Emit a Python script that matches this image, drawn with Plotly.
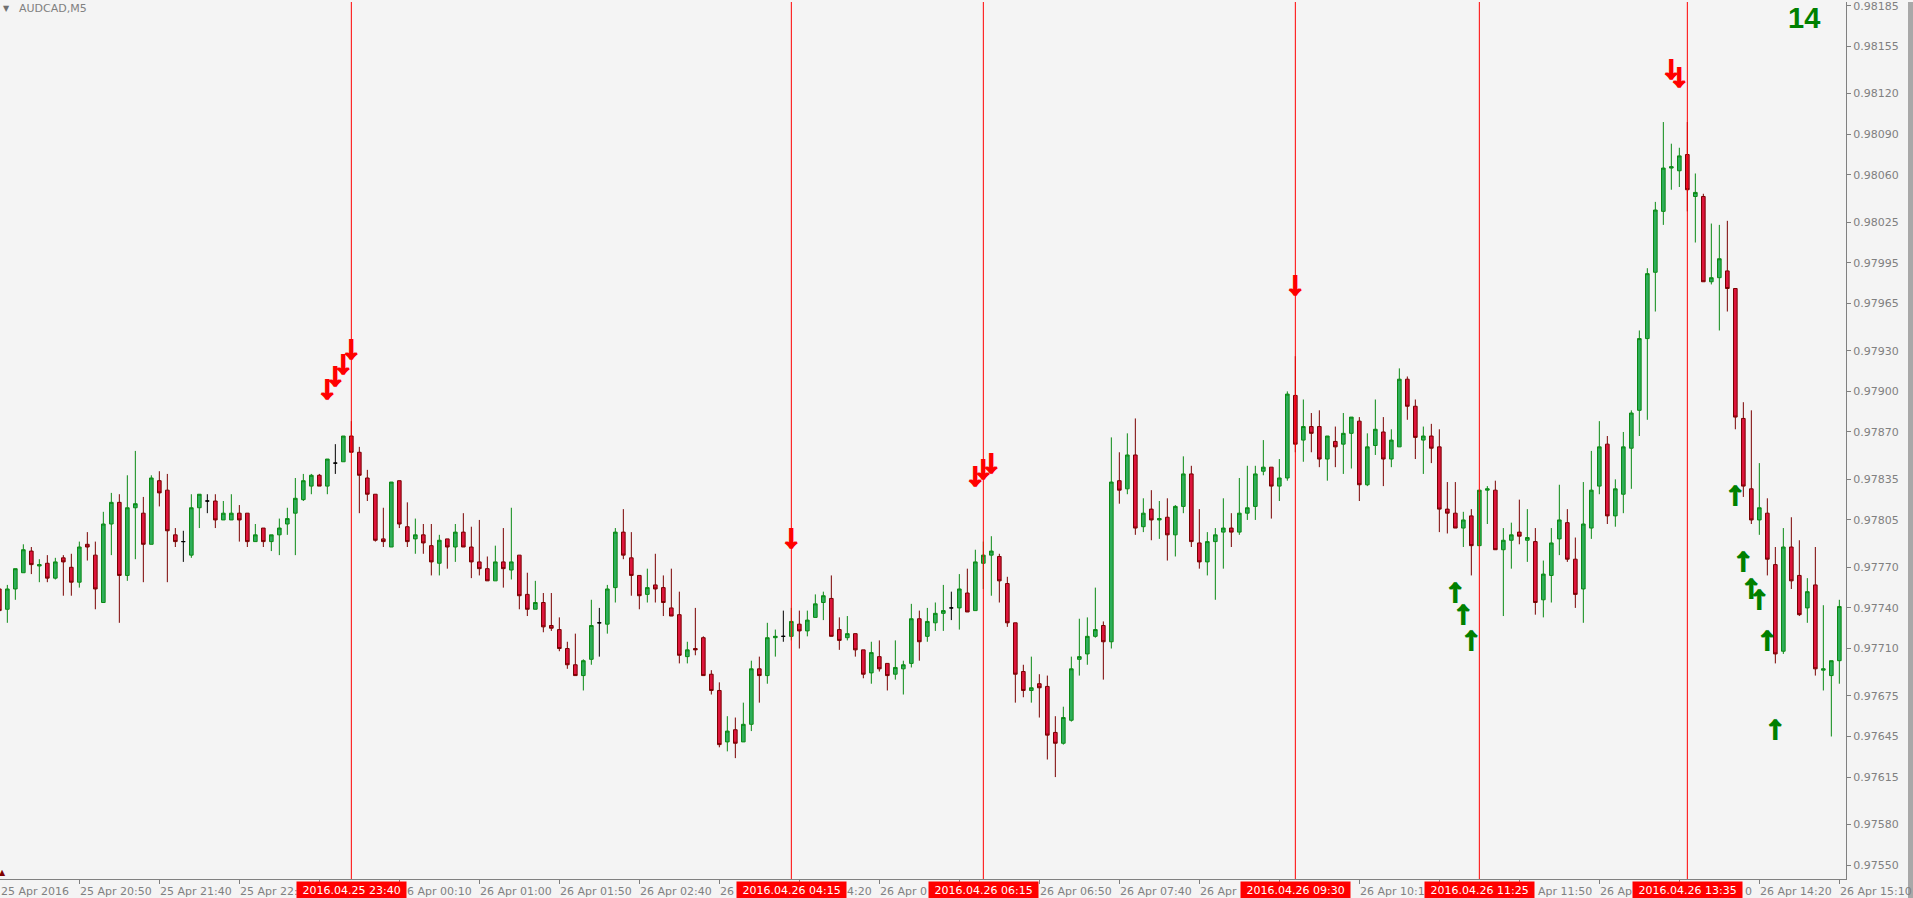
import pandas as pd
import plotly.graph_objects as go

# ---------------- data ----------------
times = pd.date_range("2016-04-25 20:00", periods=231, freq="5min")

open_ = [
    0.97754, 0.97739, 0.97754, 0.97766, 0.97782, 0.97771, 0.97773, 0.97762, 0.97777, 0.97770,
    0.97759, 0.97787, 0.97779, 0.97744, 0.97802, 0.97818, 0.97764, 0.97814, 0.97810, 0.97787,
    0.97834, 0.97827, 0.97794, 0.97789, 0.97779, 0.97814, 0.97819, 0.97819, 0.97805, 0.97805,
    0.97810, 0.97810, 0.97789, 0.97799, 0.97789, 0.97794, 0.97802, 0.97810, 0.97820, 0.97830,
    0.97838, 0.97830, 0.97847, 0.97848, 0.97867, 0.97855, 0.97836, 0.97824, 0.97791, 0.97785,
    0.97834, 0.97800, 0.97791, 0.97794, 0.97786, 0.97773, 0.97791, 0.97785, 0.97796, 0.97785,
    0.97774, 0.97769, 0.97760, 0.97774, 0.97768, 0.97779, 0.97750, 0.97739, 0.97744, 0.97727,
    0.97724, 0.97710, 0.97698, 0.97690, 0.97702, 0.97729, 0.97728, 0.97755, 0.97796, 0.97777,
    0.97764, 0.97750, 0.97757, 0.97755, 0.97740, 0.97735, 0.97704, 0.97710, 0.97718, 0.97691,
    0.97679, 0.97641, 0.97650, 0.97641, 0.97654, 0.97695, 0.97690, 0.97718, 0.97719, 0.97719,
    0.97728, 0.97723, 0.97733, 0.97744, 0.97747, 0.97724, 0.97718, 0.97721, 0.97709, 0.97692,
    0.97704, 0.97699, 0.97691, 0.97695, 0.97699, 0.97732, 0.97719, 0.97729, 0.97736, 0.97740,
    0.97740, 0.97751, 0.97738, 0.97773, 0.97779, 0.97778, 0.97758, 0.97729, 0.97693, 0.97679,
    0.97684, 0.97682, 0.97648, 0.97640, 0.97657, 0.97702, 0.97706, 0.97719, 0.97727, 0.97715,
    0.97834, 0.97828, 0.97853, 0.97800, 0.97813, 0.97805, 0.97807, 0.97794, 0.97815, 0.97839,
    0.97788, 0.97774, 0.97789, 0.97796, 0.97799, 0.97796, 0.97810, 0.97815, 0.97841, 0.97844,
    0.97830, 0.97836, 0.97897, 0.97864, 0.97874, 0.97874, 0.97850, 0.97863, 0.97861, 0.97869,
    0.97878, 0.97831, 0.97860, 0.97870, 0.97850, 0.97859, 0.97909, 0.97889, 0.97864, 0.97867,
    0.97859, 0.97813, 0.97810, 0.97799, 0.97808, 0.97786, 0.97827, 0.97827, 0.97783, 0.97790,
    0.97796, 0.97790, 0.97789, 0.97746, 0.97764, 0.97791, 0.97803, 0.97776, 0.97754, 0.97799,
    0.97830, 0.97861, 0.97808, 0.97824, 0.97858, 0.97886, 0.97939, 0.97988, 0.98033, 0.98065,
    0.98063, 0.98075, 0.98044, 0.98044, 0.97981, 0.97984, 0.97989, 0.97976, 0.97880, 0.97828,
    0.97805, 0.97810, 0.97772, 0.97708, 0.97785, 0.97764, 0.97740, 0.97757, 0.97694, 0.97690,
    0.97701,
]

high = [
    0.97757, 0.97757, 0.97769, 0.97787, 0.97785, 0.97776, 0.97779, 0.97777, 0.97779, 0.97780,
    0.97789, 0.97796, 0.97789, 0.97811, 0.97825, 0.97824, 0.97838, 0.97856, 0.97822, 0.97838,
    0.97841, 0.97839, 0.97799, 0.97797, 0.97824, 0.97824, 0.97824, 0.97824, 0.97819, 0.97824,
    0.97816, 0.97810, 0.97802, 0.97799, 0.97794, 0.97806, 0.97814, 0.97836, 0.97839, 0.97839,
    0.97839, 0.97850, 0.97861, 0.97867, 0.97878, 0.97859, 0.97842, 0.97824, 0.97814, 0.97833,
    0.97834, 0.97818, 0.97806, 0.97802, 0.97802, 0.97794, 0.97791, 0.97802, 0.97810, 0.97800,
    0.97805, 0.97778, 0.97786, 0.97799, 0.97814, 0.97779, 0.97766, 0.97760, 0.97751, 0.97751,
    0.97733, 0.97715, 0.97721, 0.97702, 0.97746, 0.97740, 0.97757, 0.97799, 0.97813, 0.97796,
    0.97764, 0.97769, 0.97780, 0.97764, 0.97769, 0.97752, 0.97715, 0.97740, 0.97719, 0.97694,
    0.97685, 0.97660, 0.97659, 0.97670, 0.97701, 0.97704, 0.97729, 0.97724, 0.97738, 0.97740,
    0.97738, 0.97738, 0.97750, 0.97752, 0.97764, 0.97733, 0.97734, 0.97721, 0.97709, 0.97715,
    0.97716, 0.97699, 0.97716, 0.97701, 0.97743, 0.97738, 0.97740, 0.97744, 0.97757, 0.97752,
    0.97765, 0.97769, 0.97783, 0.97789, 0.97793, 0.97780, 0.97763, 0.97729, 0.97698, 0.97704,
    0.97691, 0.97690, 0.97660, 0.97667, 0.97704, 0.97732, 0.97733, 0.97755, 0.97730, 0.97866,
    0.97855, 0.97869, 0.97880, 0.97821, 0.97827, 0.97819, 0.97821, 0.97816, 0.97852, 0.97845,
    0.97813, 0.97796, 0.97799, 0.97821, 0.97810, 0.97836, 0.97845, 0.97845, 0.97864, 0.97844,
    0.97850, 0.97900, 0.97926, 0.97894, 0.97884, 0.97886, 0.97867, 0.97874, 0.97884, 0.97881,
    0.97881, 0.97869, 0.97894, 0.97881, 0.97872, 0.97917, 0.97911, 0.97894, 0.97874, 0.97876,
    0.97872, 0.97833, 0.97833, 0.97811, 0.97813, 0.97827, 0.97830, 0.97834, 0.97799, 0.97803,
    0.97820, 0.97813, 0.97799, 0.97775, 0.97799, 0.97831, 0.97813, 0.97792, 0.97833, 0.97856,
    0.97878, 0.97867, 0.97835, 0.97870, 0.97886, 0.97945, 0.97991, 0.98040, 0.98099, 0.98083,
    0.98080, 0.98099, 0.98061, 0.98046, 0.98024, 0.98023, 0.98026, 0.97976, 0.97892, 0.97886,
    0.97847, 0.97821, 0.97785, 0.97799, 0.97807, 0.97790, 0.97762, 0.97785, 0.97742, 0.97701,
    0.97746,
]

low = [
    0.97734, 0.97729, 0.97746, 0.97766, 0.97765, 0.97759, 0.97759, 0.97761, 0.97749, 0.97749,
    0.97755, 0.97775, 0.97739, 0.97744, 0.97779, 0.97729, 0.97760, 0.97776, 0.97759, 0.97787,
    0.97815, 0.97759, 0.97785, 0.97774, 0.97777, 0.97799, 0.97810, 0.97799, 0.97805, 0.97805,
    0.97789, 0.97785, 0.97789, 0.97785, 0.97782, 0.97779, 0.97794, 0.97779, 0.97819, 0.97824,
    0.97830, 0.97824, 0.97839, 0.97848, 0.97855, 0.97810, 0.97819, 0.97789, 0.97785, 0.97785,
    0.97799, 0.97785, 0.97780, 0.97780, 0.97764, 0.97764, 0.97769, 0.97774, 0.97785, 0.97762,
    0.97764, 0.97760, 0.97760, 0.97755, 0.97761, 0.97739, 0.97734, 0.97739, 0.97722, 0.97723,
    0.97708, 0.97695, 0.97690, 0.97679, 0.97698, 0.97704, 0.97721, 0.97744, 0.97776, 0.97749,
    0.97739, 0.97744, 0.97744, 0.97734, 0.97734, 0.97699, 0.97699, 0.97705, 0.97690, 0.97676,
    0.97637, 0.97634, 0.97629, 0.97641, 0.97649, 0.97670, 0.97684, 0.97704, 0.97715, 0.97716,
    0.97710, 0.97719, 0.97733, 0.97731, 0.97719, 0.97709, 0.97716, 0.97704, 0.97688, 0.97684,
    0.97693, 0.97679, 0.97687, 0.97676, 0.97696, 0.97701, 0.97715, 0.97723, 0.97723, 0.97731,
    0.97724, 0.97737, 0.97738, 0.97754, 0.97749, 0.97744, 0.97726, 0.97670, 0.97674, 0.97670,
    0.97659, 0.97628, 0.97615, 0.97639, 0.97656, 0.97690, 0.97698, 0.97718, 0.97687, 0.97710,
    0.97817, 0.97824, 0.97794, 0.97796, 0.97790, 0.97791, 0.97775, 0.97778, 0.97810, 0.97785,
    0.97769, 0.97764, 0.97746, 0.97769, 0.97785, 0.97794, 0.97805, 0.97805, 0.97838, 0.97806,
    0.97819, 0.97834, 0.97855, 0.97848, 0.97855, 0.97844, 0.97834, 0.97844, 0.97839, 0.97843,
    0.97819, 0.97830, 0.97853, 0.97830, 0.97844, 0.97859, 0.97879, 0.97850, 0.97839, 0.97847,
    0.97796, 0.97795, 0.97799, 0.97785, 0.97764, 0.97786, 0.97802, 0.97783, 0.97734, 0.97769,
    0.97787, 0.97774, 0.97735, 0.97733, 0.97744, 0.97779, 0.97774, 0.97740, 0.97729, 0.97791,
    0.97824, 0.97802, 0.97800, 0.97810, 0.97828, 0.97867, 0.97879, 0.97959, 0.98023, 0.98049,
    0.98051, 0.98033, 0.98010, 0.97981, 0.97979, 0.97945, 0.97959, 0.97872, 0.97822, 0.97802,
    0.97794, 0.97764, 0.97699, 0.97706, 0.97754, 0.97734, 0.97729, 0.97690, 0.97679, 0.97645,
    0.97684,
]

close = [
    0.97738, 0.97754, 0.97769, 0.97783, 0.97772, 0.97772, 0.97762, 0.97774, 0.97774, 0.97759,
    0.97785, 0.97785, 0.97754, 0.97802, 0.97818, 0.97764, 0.97814, 0.97817, 0.97787, 0.97836,
    0.97825, 0.97797, 0.97789, 0.97789, 0.97814, 0.97824, 0.97819, 0.97805, 0.97810, 0.97810,
    0.97805, 0.97789, 0.97794, 0.97789, 0.97794, 0.97799, 0.97806, 0.97821, 0.97834, 0.97838,
    0.97830, 0.97850, 0.97847, 0.97867, 0.97855, 0.97838, 0.97824, 0.97790, 0.97789, 0.97833,
    0.97802, 0.97789, 0.97794, 0.97788, 0.97774, 0.97790, 0.97785, 0.97796, 0.97785, 0.97774,
    0.97769, 0.97760, 0.97774, 0.97769, 0.97774, 0.97749, 0.97739, 0.97744, 0.97726, 0.97725,
    0.97710, 0.97698, 0.97690, 0.97701, 0.97727, 0.97729, 0.97754, 0.97796, 0.97779, 0.97764,
    0.97749, 0.97755, 0.97754, 0.97744, 0.97734, 0.97705, 0.97709, 0.97709, 0.97690, 0.97679,
    0.97639, 0.97649, 0.97640, 0.97654, 0.97695, 0.97690, 0.97718, 0.97719, 0.97719, 0.97730,
    0.97723, 0.97731, 0.97743, 0.97749, 0.97719, 0.97716, 0.97721, 0.97709, 0.97691, 0.97707,
    0.97695, 0.97690, 0.97696, 0.97698, 0.97732, 0.97715, 0.97730, 0.97736, 0.97738, 0.97740,
    0.97754, 0.97737, 0.97774, 0.97779, 0.97782, 0.97760, 0.97729, 0.97691, 0.97679, 0.97681,
    0.97681, 0.97646, 0.97640, 0.97659, 0.97695, 0.97704, 0.97719, 0.97724, 0.97715, 0.97833,
    0.97827, 0.97853, 0.97799, 0.97810, 0.97805, 0.97806, 0.97794, 0.97815, 0.97839, 0.97789,
    0.97774, 0.97789, 0.97794, 0.97799, 0.97796, 0.97810, 0.97814, 0.97839, 0.97844, 0.97830,
    0.97836, 0.97898, 0.97861, 0.97874, 0.97869, 0.97850, 0.97867, 0.97859, 0.97869, 0.97881,
    0.97831, 0.97859, 0.97872, 0.97850, 0.97864, 0.97909, 0.97889, 0.97866, 0.97867, 0.97858,
    0.97813, 0.97810, 0.97799, 0.97805, 0.97786, 0.97827, 0.97828, 0.97783, 0.97790, 0.97794,
    0.97793, 0.97792, 0.97744, 0.97765, 0.97788, 0.97805, 0.97776, 0.97750, 0.97802, 0.97827,
    0.97859, 0.97808, 0.97828, 0.97859, 0.97884, 0.97939, 0.97987, 0.98034, 0.98065, 0.98066,
    0.98074, 0.98049, 0.98047, 0.97981, 0.97984, 0.97998, 0.97976, 0.97881, 0.97830, 0.97805,
    0.97814, 0.97776, 0.97706, 0.97785, 0.97760, 0.97735, 0.97752, 0.97695, 0.97695, 0.97701,
    0.97741,
]

price_ticks = [0.98185, 0.98155, 0.98120, 0.98090, 0.98060, 0.98025, 0.97995, 0.97965,
               0.97930, 0.97900, 0.97870, 0.97835, 0.97805, 0.97770, 0.97740, 0.97710,
               0.97675, 0.97645, 0.97615, 0.97580, 0.97550]

time_ticks = list(times[::10])
first_time_label = "25 Apr 2016"
# time-axis labels as they are visible (parts covered by the red event labels are not shown)
visible_time_times = ["2016-04-25 20:50", "2016-04-25 21:40", "2016-04-25 22:30",
                      "2016-04-26 00:10", "2016-04-26 01:00", "2016-04-26 01:50",
                      "2016-04-26 02:40", "2016-04-26 03:30", "2016-04-26 04:20",
                      "2016-04-26 05:10", "2016-04-26 06:50", "2016-04-26 07:40",
                      "2016-04-26 08:30", "2016-04-26 10:10", "2016-04-26 11:50",
                      "2016-04-26 12:40", "2016-04-26 13:30", "2016-04-26 14:20",
                      "2016-04-26 15:10"]
visible_time_text = ["25 Apr 20:50", "25 Apr 21:40", "25 Apr 22:",
                     "6 Apr 00:10", "26 Apr 01:00", "26 Apr 01:50",
                     "26 Apr 02:40", "26", "4:20",
                     "26 Apr 0", "26 Apr 06:50", "26 Apr 07:40",
                     "26 Apr", "26 Apr 10:1", "Apr 11:50",
                     "26 Ap", "0", "26 Apr 14:20",
                     "26 Apr 15:10"]
# hidden leading characters of the partly covered labels (used only for the offset)
hidden_prefix = ["", "", "", "2", "", "", "", "", "26 Apr 0", "", "", "", "", "", "26 ",
                 "", "26 Apr 13:3", "", ""]

event_times = ["2016-04-25 23:40", "2016-04-26 04:15", "2016-04-26 06:15",
               "2016-04-26 09:30", "2016-04-26 11:25", "2016-04-26 13:35"]
event_labels = ["2016.04.25 23:40", "2016.04.26 04:15", "2016.04.26 06:15",
                "2016.04.26 09:30", "2016.04.26 11:25", "2016.04.26 13:35"]

red_arrow_times = ["2016-04-25 23:25", "2016-04-25 23:30", "2016-04-25 23:35", "2016-04-25 23:40",
                   "2016-04-26 04:15", "2016-04-26 06:10", "2016-04-26 06:15", "2016-04-26 06:20",
                   "2016-04-26 09:30", "2016-04-26 13:25", "2016-04-26 13:30"]
red_arrow_prices = [0.97899, 0.97909, 0.97918, 0.97929, 0.97789, 0.97835, 0.97840, 0.97845,
                    0.97976, 0.98136, 0.98130]

green_arrow_times = ["2016-04-26 11:10", "2016-04-26 11:15", "2016-04-26 11:20",
                     "2016-04-26 14:05", "2016-04-26 14:10", "2016-04-26 14:15",
                     "2016-04-26 14:20", "2016-04-26 14:25", "2016-04-26 14:30"]
green_arrow_prices = [0.97749, 0.97733, 0.97714, 0.97821, 0.97772, 0.97752, 0.97744, 0.97714, 0.97648]

symbol_label = "AUDCAD,M5"
counter_label = "14"

# ---------------- styling ----------------
BG = "#F4F4F4"
AXIS = "#808080"
FONT = "DejaVu Sans"
ARROW_FONT = "Noto Sans CJK JP"

# approximate DejaVu Sans 11px advance widths (for hidden-prefix offsets)
CHAR_W = {" ": 3.5, "A": 7.5, "p": 7.0, "r": 4.5, ":": 3.7}


def text_width(s):
    return sum(CHAR_W.get(ch, 7.0) for ch in s)


doji = [o == c for o, c in zip(open_, close)]
body = [not d for d in doji]


def pick(vals, keep):
    return [v if k else None for v, k in zip(vals, keep)]


fig = go.Figure()
fig.add_trace(go.Candlestick(
    x=times, open=pick(open_, body), high=pick(high, body), low=pick(low, body), close=pick(close, body),
    line=dict(width=1), whiskerwidth=0,
    increasing=dict(line=dict(color="#0A8A14", width=1), fillcolor="#2EAD5A"),
    decreasing=dict(line=dict(color="#7A0000", width=1), fillcolor="#DC143C"),
    hoverinfo="skip"))
fig.add_trace(go.Candlestick(
    x=times, open=pick(open_, doji), high=pick(high, doji), low=pick(low, doji), close=pick(close, doji),
    line=dict(width=1), whiskerwidth=0,
    increasing=dict(line=dict(color="#000000", width=1), fillcolor="#000000"),
    decreasing=dict(line=dict(color="#000000", width=1), fillcolor="#000000"),
    hoverinfo="skip"))
fig.add_trace(go.Scatter(
    x=red_arrow_times, y=red_arrow_prices, mode="text",
    text=["<b>↓</b>"] * len(red_arrow_times), textposition="middle center",
    textfont=dict(family=ARROW_FONT, size=23, color="#FF0000",
                  shadow="1px 0px 0px #FF0000, -1px 0px 0px #FF0000"),
    cliponaxis=False, hoverinfo="skip"))
fig.add_trace(go.Scatter(
    x=green_arrow_times, y=green_arrow_prices, mode="text",
    text=["<b>↑</b>"] * len(green_arrow_times), textposition="middle center",
    textfont=dict(family=ARROW_FONT, size=23, color="#008000",
                  shadow="1px 0px 0px #008000, -1px 0px 0px #008000"),
    cliponaxis=False, hoverinfo="skip"))

shapes = []
for t in event_times:
    shapes.append(dict(type="line", xref="x", yref="paper", x0=t, x1=t, y0=0, y1=1,
                       line=dict(color="#FF0000", width=1), layer="above"))
# window border strip at the far right
shapes.append(dict(type="rect", xref="paper", yref="paper", x0=1908 / 1846, x1=1.05,
                   y0=-19 / 879, y1=1, fillcolor="#A8A8A8", line=dict(width=0), layer="above"))

annotations = []
annotations.append(dict(x=0, y=0, xref="paper", yref="paper", text=first_time_label, showarrow=False,
                        xanchor="left", yanchor="middle", yshift=-12, borderpad=0,
                        font=dict(family=FONT, size=11, color=AXIS)))
for t, lab, pre in zip(visible_time_times, visible_time_text, hidden_prefix):
    annotations.append(dict(x=t, y=0, xref="x", yref="paper", text=lab, showarrow=False,
                            xanchor="left", yanchor="middle", yshift=-12, xshift=text_width(pre),
                            borderpad=0, font=dict(family=FONT, size=11, color=AXIS)))
for t, lab in zip(event_times, event_labels):
    annotations.append(dict(x=t, y=0, xref="x", yref="paper", text="\u00a0" + lab + "\u00a0",
                            showarrow=False, xanchor="center", yanchor="middle", yshift=-11,
                            bgcolor="#FF0000", borderpad=2,
                            font=dict(family=FONT, size=11, color="#FFFFFF")))
annotations.append(dict(x=17 / 1846, y=1, xref="paper", yref="paper", text=symbol_label,
                        showarrow=False, xanchor="left", yanchor="middle", yshift=-6,
                        font=dict(family=FONT, size=11, color=AXIS)))
annotations.append(dict(x=6 / 1846, y=1, xref="paper", yref="paper", text="▼",
                        showarrow=False, xanchor="center", yanchor="middle", yshift=-6,
                        font=dict(family=FONT, size=8, color="#707070")))
annotations.append(dict(x=1804 / 1846, y=1, xref="paper", yref="paper", text="<b>" + counter_label + "</b>",
                        showarrow=False, xanchor="center", yanchor="middle", yshift=-16,
                        font=dict(family="Liberation Sans", size=29, color="#008000")))
annotations.append(dict(x=0, y=0, xref="paper", yref="paper", text="▲",
                        showarrow=False, xanchor="left", yanchor="bottom", xshift=-3,
                        font=dict(family=FONT, size=8, color="#800000")))

fig.update_layout(
    width=1913, height=898,
    margin=dict(l=0, r=67, t=0, b=19),
    paper_bgcolor=BG, plot_bgcolor=BG,
    showlegend=False, boxgap=0.35,
    xaxis=dict(type="date", range=["2016-04-25 20:00:25", "2016-04-26 15:14:10"],
               rangeslider=dict(visible=False), showgrid=False, zeroline=False,
               showline=True, linecolor=AXIS, linewidth=1,
               ticks="outside", ticklen=4, tickcolor=AXIS, tickvals=time_ticks,
               showticklabels=False, fixedrange=True),
    yaxis=dict(side="right", range=[0.975397, 0.981877], tickvals=price_ticks,
               tickformat=".5f", ticks="outside", ticklen=4, tickcolor=AXIS,
               ticklabeloverflow="allow",
               showline=True, linecolor=AXIS, linewidth=1, showgrid=False, zeroline=False,
               tickfont=dict(family=FONT, size=11, color=AXIS), fixedrange=True),
    shapes=shapes, annotations=annotations,
)

fig.write_html("out.html", config={"displayModeBar": False},
               post_script="document.body.style.margin='0';document.body.style.overflow='hidden';")
